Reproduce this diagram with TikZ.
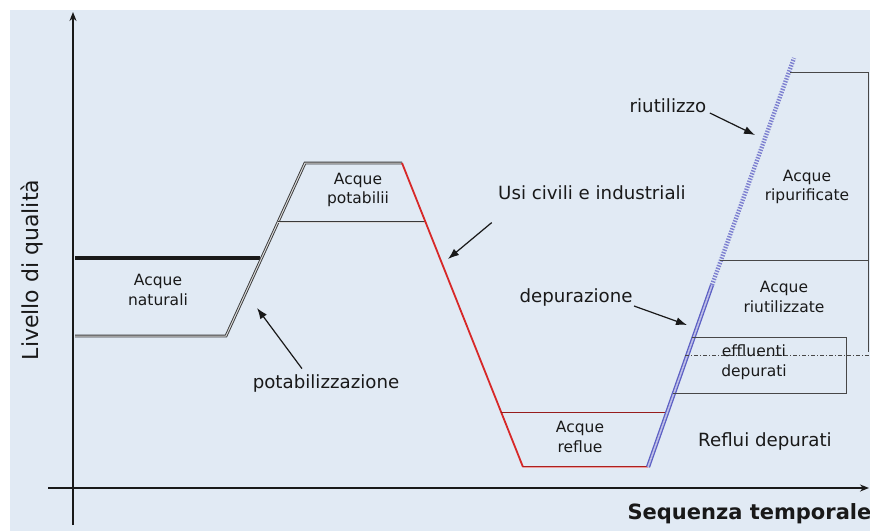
\documentclass[tikz,border=0pt]{standalone}
\usepackage{fontspec}
\setmainfont{DejaVu Sans}
\usetikzlibrary{arrows.meta}
\definecolor{bgblue}{RGB}{225,234,244}
\definecolor{inkgray}{RGB}{25,25,25}
\definecolor{slateln}{RGB}{92,96,196}
\definecolor{redln}{RGB}{215,40,40}
\begin{document}
\begin{tikzpicture}[
  x=1pt, y=-1pt,
  every node/.style={text=inkgray, align=center},
  axis/.style={line width=2.4pt, draw=inkgray, -{Stealth[length=9pt,width=7pt]}},
  pipe/.style={draw=gray!45!black, double=gray!30, double distance=1pt, line width=0.9pt},
  redpipe/.style={draw=redln, line width=1.8pt},
  bluepipe/.style={draw=slateln, double=slateln!40, double distance=1.6pt, line width=1.3pt},
  reuse/.style={draw=slateln!80, line width=4.4pt, dash pattern=on 1.4pt off 1.4pt},
  frame/.style={draw=inkgray!80, line width=0.7pt},
  label/.style={font=\fontsize{18.2}{21}\selectfont},
  boxlabel/.style={font=\fontsize{15.5}{19.5}\selectfont},
  pointer/.style={draw=inkgray, line width=1.2pt, -{Latex[length=11pt,width=8pt]}}
]
\useasboundingbox (0,0) rectangle (870,531);
\fill[bgblue] (10,10) rectangle (870,531);

% axes
\draw[axis] (73,525) -- (73,12);
\draw[axis] (48,488) -- (869,488);
\node[rotate=90, font=\fontsize{22}{26}\selectfont] (quality) at (32,270) {Livello di qualità};
\node[font=\bfseries\fontsize{21}{25}\selectfont, anchor=west] (time) at (624,514) {Sequenza temporale};

% acque naturali -> potabili
\draw[line width=3.2pt, draw=inkgray] (75,258) -- (260,258);
\draw[pipe] (75,336) -- (226,336) -- (305,163) -- (402,163);
\draw[pipe] (278,222) -- (425,222);

% usi -> reflue
\draw[redpipe] (402,163) -- (523,467);
\draw[draw=redln!80!black, double=redln!45, double distance=0.9pt, line width=0.8pt] (523,467) -- (648,467);
\draw[draw=redln!70!black, line width=0.8pt] (501,412) -- (665,412);

% depurazione -> riutilizzo
\draw[bluepipe] (648,467) -- (712,285);
\draw[reuse] (712,285) -- (794,58);

% boxes on the right
\draw[frame] (790,72) -- (868,72) -- (868,352);
\draw[frame] (720,260) -- (868,260);
\draw[frame, dash pattern=on 4pt off 2pt on 1pt off 2pt] (685,355) -- (870,355);
\draw[frame] (692,337) -- (846,337) -- (846,393) -- (673,393);

% box texts
\node[boxlabel] (nat) at (158,290) {Acque\\naturali};
\node[boxlabel] (pot) at (358,190) {Acque\\potabilii};
\node[boxlabel] (ref) at (580,437) {Acque\\reflue};
\node[boxlabel] (rip) at (807,187) {Acque\\ripurificate};
\node[boxlabel] (riutz) at (784,297) {Acque\\riutilizzate};
\node[boxlabel] (eff) at (754,362) {effluenti\\depurati};

% process labels
\node[label] (usi) at (592,193) {Usi civili e industriali};
\node[label] (potab) at (326,383) {potabilizzazione};
\node[label] (dep) at (576,297) {depurazione};
\node[label] (riut) at (668,106) {riutilizzo};
\node[label] (refdep) at (765,441) {Reflui depurati};

\coordinate (usitip) at (448,259);
\coordinate (potabtip) at (257,308);
\coordinate (deptip) at (687,325);
\coordinate (riuttip) at (755,135);
\draw[pointer] ([xshift=-3pt,yshift=-19pt]usi.south west) -- (usitip);
\draw[pointer] ([xshift=-24pt,yshift=2pt]potab.north) -- (potabtip);
\draw[pointer] ([xshift=-2pt,yshift=-9pt]dep.east) -- (deptip);
\draw[pointer] ([yshift=-7pt]riut.east) -- (riuttip);
\end{tikzpicture}
\end{document}
